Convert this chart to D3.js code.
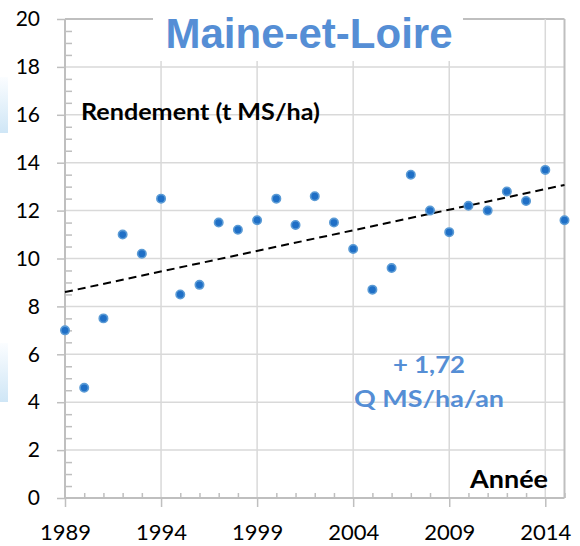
<!DOCTYPE html>
<html>
<head>
<meta charset="utf-8">
<script src="https://cdn.jsdelivr.net/npm/d3@7"></script>
<style>
  html, body { margin: 0; padding: 0; background: #ffffff; }
  svg { display: block; }
</style>
</head>
<body>
<svg id="chart" width="580" height="546"></svg>
<script>
// Rendement annuel (t MS/ha), Maine-et-Loire
const years = [1989, 1990, 1991, 1992, 1993, 1994, 1995, 1996, 1997, 1998, 1999, 2000, 2001, 2002,
               2003, 2004, 2005, 2006, 2007, 2008, 2009, 2010, 2011, 2012, 2013, 2014, 2015];
const rendement = [7.0, 4.6, 7.5, 11.0, 10.2, 12.5, 8.5, 8.9, 11.5, 11.2, 11.6, 12.5, 11.4, 12.6,
                   11.5, 10.4, 8.7, 9.6, 13.5, 12.0, 11.1, 12.2, 12.0, 12.8, 12.4, 13.7, 11.6];
const xTickValues = [1989, 1994, 1999, 2004, 2009, 2014];
const yTickValues = [0, 2, 4, 6, 8, 10, 12, 14, 16, 18, 20];
// Pente de la tendance : + 1,72 q MS/ha/an = 0,172 t MS/ha/an
const trendSlope = 0.172;
const titleText = "Maine-et-Loire";
const yLabel = "Rendement (t MS/ha)";
const xLabel = "Année";
const trendLabel = ["+ 1,72", "Q MS/ha/an"];

const svg = d3.select("#chart");
const blue = "#558ED5";
const gridColor = "#d9d9d9";
const axisColor = "#bfbfbf";
const labelFont = "Lato, 'Open Sans', sans-serif";

const x = d3.scaleLinear().domain([1989, 2015]).range([65, 564.5]);
const y = d3.scaleLinear().domain([0, 20]).range([498, 19]);

// pale blue strips on the left margin
const defs = svg.append("defs");
const grad = defs.append("linearGradient").attr("id", "edge").attr("x1", 0).attr("y1", 0).attr("x2", 0).attr("y2", 1);
grad.append("stop").attr("offset", "0%").attr("stop-color", "#fbfdff");
grad.append("stop").attr("offset", "100%").attr("stop-color", "#cfe6f6");
[[77, 133], [343, 402]].forEach(([a, b]) => {
  svg.append("rect").attr("x", 0).attr("y", a).attr("width", 8).attr("height", b - a)
    .attr("fill", "url(#edge)");
});

// gridlines
const grid = svg.append("g");
grid.selectAll("line.h").data(yTickValues.filter(v => v > 0)).join("line")
  .attr("x1", x(1989)).attr("x2", x(2015))
  .attr("y1", d => y(d)).attr("y2", d => y(d))
  .attr("stroke", d => d === 20 ? axisColor : gridColor)
  .attr("stroke-width", d => d === 20 ? 2 : 1.5);
grid.selectAll("line.v").data(xTickValues.filter(v => v > 1989)).join("line")
  .attr("x1", d => x(d)).attr("x2", d => x(d))
  .attr("y1", y(20)).attr("y2", y(0))
  .attr("stroke", gridColor).attr("stroke-width", 1.5);
// right border of the plot area
grid.append("line")
  .attr("x1", x(2015)).attr("x2", x(2015)).attr("y1", y(20)).attr("y2", y(0))
  .attr("stroke", axisColor).attr("stroke-width", 2);

// y axis: major ticks outside, minor ticks inside
const yMinor = d3.range(0, 20.01, 0.5).filter(v => v % 2 !== 0);
const yAxisMinor = svg.append("g").attr("transform", `translate(${x(1989)},0)`)
  .call(d3.axisLeft(y).tickValues(yMinor).tickSize(-7).tickFormat(""));
const yAxis = svg.append("g").attr("transform", `translate(${x(1989)},0)`)
  .call(d3.axisLeft(y).tickValues(yTickValues).tickSize(8).tickPadding(17).tickFormat(d3.format("d")));

// x axis: major ticks outside, yearly minor ticks inside
const xAxisMinor = svg.append("g").attr("transform", `translate(0,${y(0)})`)
  .call(d3.axisBottom(x).tickValues(years.filter(v => !xTickValues.includes(v))).tickSize(-5).tickFormat(""));
const xAxis = svg.append("g").attr("transform", `translate(0,${y(0)})`)
  .call(d3.axisBottom(x).tickValues(xTickValues).tickSize(9).tickPadding(17).tickFormat(d3.format("d")));

[yAxisMinor, yAxis, xAxisMinor, xAxis].forEach(g => {
  g.select(".domain").attr("stroke", axisColor).attr("stroke-width", 2);
  g.selectAll(".tick line").attr("stroke", axisColor).attr("stroke-width", 1.5);
});
yAxisMinor.select(".domain").remove();
xAxisMinor.select(".domain").remove();
yAxis.select(".domain").attr("d", `M0,${y(20)}V${y(0)}`);
xAxis.select(".domain").attr("d", `M${x(1989)},0H${x(2015)}`);
yAxis.selectAll(".tick text").attr("font-family", labelFont)
  .attr("font-size", 21).attr("fill", "#000");
xAxis.selectAll(".tick text").attr("font-family", labelFont)
  .attr("font-size", 22).attr("fill", "#000");

// title on a white band over the top border
svg.append("rect").attr("x", 153).attr("y", 0).attr("width", 310).attr("height", 61).attr("fill", "#fff");
svg.append("text").attr("x", 309).attr("y", 48).attr("text-anchor", "middle")
  .attr("font-family", "'Liberation Sans', Arial, sans-serif").attr("font-weight", "bold")
  .attr("font-size", 42).attr("fill", blue).text(titleText);

// bold text helper with a fixed drawn width
function boldText(px, py, anchor, size, len, color, str) {
  return svg.append("text").attr("x", px).attr("y", py).attr("text-anchor", anchor)
    .attr("font-family", labelFont).attr("font-weight", "bold")
    .attr("font-size", size).attr("fill", color)
    .attr("textLength", len).attr("lengthAdjust", "spacingAndGlyphs")
    .text(str);
}

// axis labels inside the plot
boldText(81, 120, "start", 23, 239, "#000", yLabel);
boldText(548, 488, "end", 24, 78, "#000", xLabel);

// linear trend through the mean point with the stated slope
const meanYear = d3.mean(years), meanVal = d3.mean(rendement);
const trend = yr => meanVal + trendSlope * (yr - meanYear);
svg.append("line")
  .attr("x1", x(1989)).attr("y1", y(trend(1989)))
  .attr("x2", x(2015)).attr("y2", y(trend(2015)))
  .attr("stroke", "#000").attr("stroke-width", 2).attr("stroke-dasharray", "8,5");

// trend annotation
boldText(429, 373, "middle", 23, 72, blue, trendLabel[0]);
boldText(429, 407, "middle", 23, 150, blue, trendLabel[1]);

// points
svg.append("g").selectAll("circle").data(years).join("circle")
  .attr("cx", d => x(d)).attr("cy", (d, i) => y(rendement[i]))
  .attr("r", 4.2).attr("fill", "#1f6fc6")
  .attr("stroke", "#5b9bd5").attr("stroke-width", 1.6);
</script>
</body>
</html>
